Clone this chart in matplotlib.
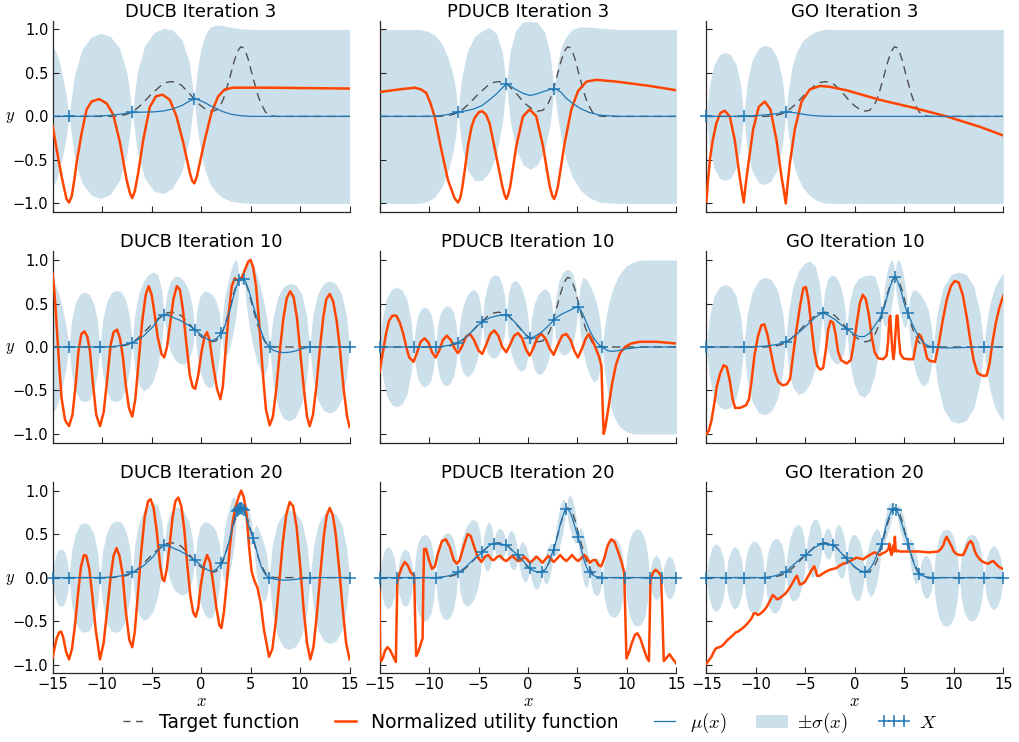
import numpy as np
import matplotlib
matplotlib.use("Agg")
import matplotlib.pyplot as plt
from matplotlib.lines import Line2D
from matplotlib.patches import Patch

plt.rcParams.update({
    "font.family": ["DejaVu Sans"],
    "mathtext.fontset": "cm",
    "axes.linewidth": 0.9,
})

COLORS = {
    "band": "#cce0ec",
    "mu": "#1f77b4",
    "util": "#ff4500",
    "target": "#505050",
    "spine": "#262626",
}

# --- target function (same in every panel) ---
TARGET_X = [-15, -9, -8.5, -8, -7.5, -7, -6.5, -6, -5.5, -5, -4.5, -4, -3.5, -3, -2.5, -2,
            -1.5, -1, -0.5, 0, 0.5, 1, 1.5, 2, 2.25, 2.5, 2.75, 3, 3.25, 3.5, 3.75, 4,
            4.25, 4.5, 4.75, 5, 5.25, 5.5, 5.75, 6, 6.5, 7, 7.5, 15]
TARGET_Y = [0, 0, 0.005, 0.012, 0.025, 0.05, 0.09, 0.14, 0.2, 0.26, 0.31, 0.36, 0.39, 0.4, 0.39, 0.36,
            0.3, 0.24, 0.17, 0.12, 0.08, 0.06, 0.07, 0.14, 0.2, 0.29, 0.39, 0.49, 0.6, 0.69, 0.76, 0.8,
            0.79, 0.74, 0.66, 0.55, 0.44, 0.34, 0.24, 0.16, 0.05, 0.01, 0, 0]

# --- observed samples X (+ markers) ---
X_DUCB3 = [-13.35, -6.96, -0.70]
Y_DUCB3 = [0.0, 0.046, 0.2]
X_PDUCB3 = [-7.08, -2.19, 2.63]
Y_PDUCB3 = [0.05, 0.37, 0.32]
X_GO3 = [-15.0, -11.23, -6.98]
Y_GO3 = [0.0, 0.0, 0.05]
X_DUCB10 = [-13.35, -10.22, -6.96, -3.73, -0.64, 2.05, 3.85, 4.35, 6.93, 10.97, 15.0]
Y_DUCB10 = [0, 0, 0.05, 0.37, 0.2, 0.16, 0.77, 0.78, 0, 0, 0]
X_PDUCB10 = [-15.0, -11.56, -9.34, -7.08, -4.62, -2.19, 0.17, 2.59, 5.05, 7.51]
Y_PDUCB10 = [0, 0, 0, 0.05, 0.29, 0.37, 0.1, 0.31, 0.46, 0]
X_GO10 = [-15.0, -11.23, -6.98, -3.27, -0.84, 2.75, 4.04, 5.35, 7.92, 13.04]
Y_GO10 = [0, 0, 0.06, 0.39, 0.21, 0.39, 0.8, 0.39, 0, 0]
X_DUCB20 = [-15, -13.35, -10.22, -6.96, -3.73, -0.64, 2.05, 3.6, 3.75, 3.85, 3.95, 4.05, 4.15, 4.3,
            5.25, 6.86, 11.03, 15]
Y_DUCB20 = [0, 0, 0, 0.06, 0.37, 0.2, 0.17, 0.76, 0.78, 0.79, 0.8, 0.8, 0.79, 0.78,
            0.46, 0, 0, 0]
X_PDUCB20 = [-15, -13.25, -11.56, -9.34, -7.08, -4.62, -3.47, -2.19, -1.01, 0.17, 1.45, 2.59, 3.87,
             5.05, 6.23, 7.51, 9.77, 12.3, 13.58, 15]
Y_PDUCB20 = [0, 0, 0, 0, 0.06, 0.29, 0.39, 0.37, 0.26, 0.11, 0.06, 0.32, 0.79,
             0.47, 0.06, 0, 0, 0, 0, 0]
X_GO20 = [-15, -13.05, -11.23, -9.1, -6.98, -4.96, -3.27, -2.19, -0.84, 1.0, 2.7, 3.87, 4.2, 5.39,
          6.5, 7.92, 10.55, 13.04, 15]
Y_GO20 = [0, 0, 0, 0, 0.07, 0.26, 0.39, 0.37, 0.22, 0.07, 0.39, 0.79, 0.78, 0.39,
          0.04, 0, 0, 0, 0]

# --- GP posterior: (x, mu, sigma) ---
GP_DUCB3 = [
    (-15.0, 0.0, 0.80), (-14.7, 0.0, 0.75), (-14.35, 0.0, 0.64), (-14.0, 0.0, 0.46), (-13.65, 0.0, 0.25), (-13.35, 0.0, 0.0),
    (-12.84, 0.001, 0.45), (-12.07, 0.001, 0.76), (-11.11, 0.002, 0.91), (-10.16, 0.006, 0.95), (-9.2, 0.012, 0.91),
    (-8.24, 0.025, 0.76), (-7.47, 0.037, 0.45), (-6.96, 0.046, 0.0),
    (-6.46, 0.048, 0.45), (-5.71, 0.049, 0.76), (-4.77, 0.052, 0.91), (-3.83, 0.062, 0.95), (-2.89, 0.085, 0.91),
    (-1.95, 0.125, 0.76), (-1.2, 0.175, 0.45), (-0.7, 0.2, 0.0),
    (-0.4, 0.195, 0.33), (-0.05, 0.18, 0.58), (0.4, 0.157, 0.78), (0.9, 0.125, 0.9), (1.5, 0.09, 0.96),
    (2.2, 0.055, 0.99), (3.0, 0.025, 1.0), (4.0, 0.008, 1.0), (5.0, 0.0, 1.0), (15.0, 0.0, 1.0)]
GP_PDUCB3 = [
    (-15.0, 0.0, 1.0), (-11.0, 0.0, 1.0), (-10.2, 0.0, 0.98), (-9.4, 0.003, 0.93), (-8.7, 0.012, 0.82),
    (-8.1, 0.022, 0.66), (-7.6, 0.035, 0.45), (-7.3, 0.043, 0.27), (-7.08, 0.05, 0.0),
    (-6.69, 0.058, 0.4), (-6.1, 0.068, 0.69), (-5.37, 0.09, 0.83), (-4.64, 0.125, 0.86), (-3.9, 0.19, 0.83),
    (-3.17, 0.26, 0.69), (-2.58, 0.33, 0.4), (-2.19, 0.37, 0.0),
    (-1.8, 0.35, 0.4), (-1.23, 0.31, 0.68), (-0.5, 0.265, 0.82), (0.22, 0.24, 0.85), (0.94, 0.26, 0.82),
    (1.67, 0.29, 0.68), (2.24, 0.31, 0.4), (2.63, 0.32, 0.0),
    (2.95, 0.305, 0.27), (3.35, 0.275, 0.52), (3.85, 0.21, 0.71), (4.5, 0.15, 0.85), (5.3, 0.09, 0.94),
    (6.2, 0.045, 0.98), (7.2, 0.015, 1.0), (9.0, 0.0, 1.0), (15.0, 0.0, 1.0)]
GP_GO3 = [
    (-15.0, 0.0, 0.0), (-14.7, 0.0, 0.35), (-14.25, 0.0, 0.59), (-13.68, 0.0, 0.71), (-13.12, 0.0, 0.735),
    (-12.55, 0.0, 0.71), (-11.98, 0.0, 0.59), (-11.53, 0.0, 0.35), (-11.23, 0.0, 0.0),
    (-10.89, 0.003, 0.38), (-10.38, 0.006, 0.64), (-9.74, 0.011, 0.77), (-9.11, 0.017, 0.8), (-8.47, 0.024, 0.77),
    (-7.83, 0.033, 0.64), (-7.32, 0.042, 0.38), (-6.98, 0.05, 0.0),
    (-6.7, 0.05, 0.27), (-6.35, 0.046, 0.52), (-5.9, 0.038, 0.7), (-5.3, 0.026, 0.84), (-4.6, 0.014, 0.92),
    (-3.9, 0.006, 0.97), (-3.0, 0.002, 1.0), (-2.0, 0.0, 1.0), (15.0, 0.0, 1.0)]
GP_DUCB10 = [
    (-15.0, 0.0, 0.76), (-14.7, 0.0, 0.71), (-14.35, 0.0, 0.6), (-14.0, 0.0, 0.44), (-13.65, 0.0, 0.24), (-13.35, 0.0, 0.0),
    (-13.1, 0.0, 0.3), (-12.72, 0.0, 0.5), (-12.25, 0.0, 0.61), (-11.79, 0.0, 0.63), (-11.32, 0.0, 0.61),
    (-10.85, 0.0, 0.5), (-10.47, 0.0, 0.3), (-10.22, 0.0, 0.0),
    (-9.96, 0.001, 0.3), (-9.57, 0.002, 0.51), (-9.08, 0.004, 0.62), (-8.59, 0.01, 0.64), (-8.1, 0.018, 0.62),
    (-7.61, 0.03, 0.51), (-7.22, 0.042, 0.3), (-6.96, 0.05, 0.0),
    (-6.7, 0.065, 0.31), (-6.31, 0.09, 0.52), (-5.83, 0.125, 0.63), (-5.35, 0.18, 0.65), (-4.86, 0.235, 0.63),
    (-4.38, 0.31, 0.52), (-3.99, 0.35, 0.31), (-3.73, 0.37, 0.0),
    (-3.48, 0.365, 0.24), (-3.11, 0.355, 0.4), (-2.65, 0.33, 0.48), (-2.19, 0.31, 0.5), (-1.73, 0.28, 0.48),
    (-1.26, 0.25, 0.4), (-0.89, 0.22, 0.24), (-0.64, 0.2, 0.0),
    (-0.42, 0.18, 0.26), (-0.1, 0.15, 0.44), (0.3, 0.115, 0.53), (0.71, 0.085, 0.55), (1.11, 0.07, 0.53),
    (1.51, 0.095, 0.44), (1.83, 0.13, 0.26), (2.05, 0.16, 0.0),
    (2.19, 0.19, 0.2), (2.41, 0.25, 0.34), (2.68, 0.33, 0.4), (2.95, 0.44, 0.42), (3.22, 0.56, 0.4),
    (3.49, 0.67, 0.34), (3.71, 0.74, 0.2), (3.85, 0.77, 0.0),
    (4.1, 0.785, 0.07), (4.35, 0.78, 0.0),
    (4.56, 0.73, 0.24), (4.87, 0.63, 0.4), (5.25, 0.48, 0.48), (5.64, 0.33, 0.5), (6.03, 0.19, 0.48),
    (6.41, 0.08, 0.4), (6.72, 0.025, 0.24), (6.93, 0.0, 0.0),
    (7.25, -0.035, 0.37), (7.74, -0.055, 0.63), (8.34, -0.065, 0.76), (8.95, -0.06, 0.79), (9.56, -0.045, 0.76),
    (10.16, -0.02, 0.63), (10.65, -0.008, 0.37), (10.97, 0.0, 0.0),
    (11.29, 0.0, 0.36), (11.78, 0.0, 0.61), (12.38, 0.0, 0.73), (12.99, 0.0, 0.76), (13.59, 0.0, 0.73),
    (14.19, 0.0, 0.61), (14.68, 0.0, 0.36), (15.0, 0.0, 0.0)]
GP_PDUCB10 = [
    (-15.0, 0.0, 0.0), (-14.72, 0.0, 0.32), (-14.31, 0.0, 0.55), (-13.8, 0.0, 0.66), (-13.28, 0.0, 0.69),
    (-12.76, 0.0, 0.66), (-12.25, 0.0, 0.55), (-11.84, 0.0, 0.32), (-11.56, 0.0, 0.0),
    (-11.38, 0.0, 0.22), (-11.12, 0.0, 0.37), (-10.78, 0.0, 0.44), (-10.45, 0.0, 0.46), (-10.12, 0.0, 0.44),
    (-9.78, 0.0, 0.37), (-9.52, 0.0, 0.22), (-9.34, 0.0, 0.0),
    (-9.16, 0.001, 0.22), (-8.89, 0.004, 0.37), (-8.55, 0.009, 0.44), (-8.21, 0.015, 0.46), (-7.87, 0.023, 0.44),
    (-7.53, 0.034, 0.37), (-7.26, 0.043, 0.22), (-7.08, 0.05, 0.0),
    (-6.88, 0.065, 0.23), (-6.59, 0.085, 0.38), (-6.22, 0.12, 0.46), (-5.85, 0.16, 0.48), (-5.48, 0.2, 0.46),
    (-5.1, 0.245, 0.38), (-4.82, 0.27, 0.23), (-4.62, 0.29, 0.0),
    (-4.43, 0.305, 0.23), (-4.13, 0.32, 0.38), (-3.77, 0.34, 0.46), (-3.4, 0.35, 0.48), (-3.04, 0.36, 0.46),
    (-2.68, 0.365, 0.38), (-2.38, 0.37, 0.23), (-2.19, 0.37, 0.0),
    (-2.0, 0.36, 0.24), (-1.72, 0.33, 0.4), (-1.36, 0.29, 0.48), (-1.01, 0.245, 0.5), (-0.66, 0.2, 0.48),
    (-0.3, 0.15, 0.4), (-0.02, 0.115, 0.24), (0.17, 0.1, 0.0),
    (0.36, 0.105, 0.23), (0.65, 0.12, 0.38), (1.02, 0.145, 0.46), (1.38, 0.17, 0.48), (1.74, 0.21, 0.46),
    (2.11, 0.25, 0.38), (2.4, 0.285, 0.23), (2.59, 0.31, 0.0),
    (2.79, 0.33, 0.23), (3.08, 0.355, 0.39), (3.45, 0.38, 0.47), (3.82, 0.4, 0.49), (4.19, 0.42, 0.47),
    (4.56, 0.44, 0.39), (4.85, 0.455, 0.23), (5.05, 0.46, 0.0),
    (5.25, 0.44, 0.25), (5.54, 0.38, 0.42), (5.91, 0.28, 0.5), (6.28, 0.18, 0.52), (6.65, 0.1, 0.5),
    (7.02, 0.045, 0.42), (7.31, 0.015, 0.25), (7.51, 0.0, 0.0),
    (7.75, -0.02, 0.27), (8.1, -0.045, 0.52), (8.6, -0.05, 0.73), (9.2, -0.04, 0.87), (9.9, -0.022, 0.95),
    (10.7, -0.01, 0.99), (11.6, 0.0, 1.0), (15.0, 0.0, 1.0)]
GP_GO10 = [
    (-15.0, 0.0, 0.0), (-14.7, 0.0, 0.34), (-14.25, 0.0, 0.58), (-13.68, 0.0, 0.69), (-13.12, 0.0, 0.72),
    (-12.55, 0.0, 0.69), (-11.98, 0.0, 0.58), (-11.53, 0.0, 0.34), (-11.23, 0.0, 0.0),
    (-10.89, 0.001, 0.37), (-10.38, 0.002, 0.63), (-9.74, 0.005, 0.76), (-9.11, 0.01, 0.79), (-8.47, 0.018, 0.76),
    (-7.83, 0.03, 0.63), (-7.32, 0.045, 0.37), (-6.98, 0.06, 0.0),
    (-6.68, 0.08, 0.35), (-6.24, 0.115, 0.59), (-5.68, 0.165, 0.71), (-5.13, 0.22, 0.74), (-4.57, 0.28, 0.71),
    (-4.01, 0.34, 0.59), (-3.57, 0.375, 0.35), (-3.27, 0.39, 0.0),
    (-3.08, 0.385, 0.24), (-2.78, 0.37, 0.4), (-2.42, 0.345, 0.48), (-2.06, 0.32, 0.5), (-1.69, 0.285, 0.48),
    (-1.33, 0.25, 0.4), (-1.03, 0.225, 0.24), (-0.84, 0.21, 0.0),
    (-0.55, 0.185, 0.33), (-0.12, 0.15, 0.56), (0.42, 0.12, 0.67), (0.96, 0.12, 0.7), (1.49, 0.16, 0.67),
    (2.03, 0.25, 0.56), (2.46, 0.32, 0.33), (2.75, 0.39, 0.0),
    (2.85, 0.42, 0.14), (3.01, 0.47, 0.24), (3.2, 0.55, 0.29), (3.4, 0.63, 0.3), (3.59, 0.7, 0.29),
    (3.78, 0.76, 0.24), (3.94, 0.79, 0.14), (4.04, 0.8, 0.0),
    (4.14, 0.79, 0.14), (4.3, 0.76, 0.24), (4.5, 0.7, 0.29), (4.7, 0.63, 0.3), (4.89, 0.54, 0.29),
    (5.09, 0.46, 0.24), (5.25, 0.41, 0.14), (5.35, 0.39, 0.0),
    (5.56, 0.33, 0.24), (5.86, 0.25, 0.41), (6.25, 0.16, 0.49), (6.64, 0.09, 0.51), (7.02, 0.04, 0.49),
    (7.41, 0.015, 0.41), (7.72, 0.005, 0.24), (7.92, 0.0, 0.0),
    (8.33, -0.005, 0.41), (8.94, -0.01, 0.7), (9.71, -0.01, 0.84), (10.48, -0.008, 0.87), (11.25, -0.005, 0.84),
    (12.02, -0.003, 0.7), (12.63, -0.001, 0.41), (13.04, 0.0, 0.0),
    (13.3, 0.0, 0.27), (13.65, 0.0, 0.5), (14.1, 0.0, 0.68), (14.55, 0.0, 0.78), (15.0, 0.0, 0.85)]
GP_DUCB20 = [
    (-15.0, 0.0, 0.0), (-14.87, 0.0, 0.16), (-14.67, 0.0, 0.26), (-14.42, 0.0, 0.32), (-14.18, 0.0, 0.33),
    (-13.93, 0.0, 0.32), (-13.68, 0.0, 0.26), (-13.48, 0.0, 0.16), (-13.35, 0.0, 0.0),
    (-13.1, 0.0, 0.3), (-12.72, 0.0, 0.5), (-12.25, 0.0, 0.61), (-11.79, 0.0, 0.63), (-11.32, 0.0, 0.61),
    (-10.85, 0.0, 0.5), (-10.47, 0.0, 0.3), (-10.22, 0.0, 0.0),
    (-9.96, 0.001, 0.3), (-9.57, 0.002, 0.51), (-9.08, 0.005, 0.62), (-8.59, 0.011, 0.64), (-8.1, 0.02, 0.62),
    (-7.61, 0.033, 0.51), (-7.22, 0.048, 0.3), (-6.96, 0.06, 0.0),
    (-6.7, 0.075, 0.31), (-6.31, 0.1, 0.52), (-5.83, 0.135, 0.63), (-5.35, 0.185, 0.65), (-4.86, 0.24, 0.63),
    (-4.38, 0.31, 0.52), (-3.99, 0.35, 0.31), (-3.73, 0.37, 0.0),
    (-3.48, 0.365, 0.24), (-3.11, 0.355, 0.4), (-2.65, 0.33, 0.48), (-2.19, 0.31, 0.5), (-1.73, 0.28, 0.48),
    (-1.26, 0.25, 0.4), (-0.89, 0.22, 0.24), (-0.64, 0.2, 0.0),
    (-0.42, 0.18, 0.26), (-0.1, 0.15, 0.44), (0.3, 0.115, 0.53), (0.71, 0.085, 0.55), (1.11, 0.07, 0.53),
    (1.51, 0.095, 0.44), (1.83, 0.135, 0.26), (2.05, 0.17, 0.0),
    (2.17, 0.2, 0.18), (2.36, 0.25, 0.3), (2.59, 0.32, 0.37), (2.83, 0.42, 0.38), (3.06, 0.53, 0.37),
    (3.29, 0.64, 0.3), (3.48, 0.72, 0.18), (3.6, 0.76, 0.0),
    (3.75, 0.78, 0.0), (3.85, 0.79, 0.0), (3.95, 0.8, 0.0), (4.05, 0.8, 0.0), (4.15, 0.79, 0.0), (4.3, 0.78, 0.0),
    (4.38, 0.76, 0.08), (4.49, 0.72, 0.14), (4.63, 0.67, 0.165), (4.78, 0.61, 0.17), (4.92, 0.56, 0.165),
    (5.06, 0.52, 0.14), (5.17, 0.48, 0.08), (5.25, 0.46, 0.0),
    (5.38, 0.41, 0.16), (5.57, 0.33, 0.28), (5.81, 0.22, 0.34), (6.06, 0.13, 0.35), (6.3, 0.07, 0.34),
    (6.54, 0.03, 0.28), (6.73, 0.01, 0.16), (6.86, 0.0, 0.0),
    (7.19, -0.012, 0.38), (7.69, -0.022, 0.64), (8.32, -0.03, 0.77), (8.95, -0.027, 0.8), (9.57, -0.02, 0.77),
    (10.2, -0.012, 0.64), (10.7, -0.005, 0.38), (11.03, 0.0, 0.0),
    (11.35, 0.0, 0.36), (11.82, 0.0, 0.61), (12.42, 0.0, 0.73), (13.02, 0.0, 0.76), (13.61, 0.0, 0.73),
    (14.21, 0.0, 0.61), (14.68, 0.0, 0.36), (15.0, 0.0, 0.0)]
GP_PDUCB20 = [
    (-15.0, 0.0, 0.0), (-14.79, 0.0, 0.2), (-14.48, 0.0, 0.32), (-14.13, 0.0, 0.36), (-13.78, 0.0, 0.32),
    (-13.46, 0.0, 0.2), (-13.25, 0.0, 0.0),
    (-13.05, 0.0, 0.18), (-12.74, 0.0, 0.3), (-12.41, 0.0, 0.33), (-12.07, 0.0, 0.3), (-11.76, 0.0, 0.18), (-11.56, 0.0, 0.0),
    (-11.38, 0.0, 0.24), (-11.12, 0.0, 0.4), (-10.78, 0.0, 0.48), (-10.45, 0.0, 0.5), (-10.12, 0.0, 0.48),
    (-9.78, 0.0, 0.4), (-9.52, 0.0, 0.24), (-9.34, 0.0, 0.0),
    (-9.16, 0.001, 0.24), (-8.89, 0.004, 0.4), (-8.55, 0.009, 0.48), (-8.21, 0.016, 0.5), (-7.87, 0.026, 0.48),
    (-7.53, 0.038, 0.4), (-7.26, 0.05, 0.24), (-7.08, 0.06, 0.0),
    (-6.88, 0.075, 0.23), (-6.59, 0.095, 0.38), (-6.22, 0.13, 0.46), (-5.85, 0.17, 0.48), (-5.48, 0.21, 0.46),
    (-5.1, 0.25, 0.38), (-4.82, 0.27, 0.23), (-4.62, 0.29, 0.0),
    (-4.48, 0.305, 0.16), (-4.28, 0.33, 0.25), (-4.05, 0.355, 0.28), (-3.82, 0.375, 0.25), (-3.61, 0.385, 0.16), (-3.47, 0.39, 0.0),
    (-3.32, 0.392, 0.1), (-3.09, 0.393, 0.16), (-2.83, 0.39, 0.18), (-2.57, 0.383, 0.16), (-2.34, 0.376, 0.1), (-2.19, 0.37, 0.0),
    (-2.05, 0.36, 0.12), (-1.84, 0.34, 0.2), (-1.6, 0.315, 0.22), (-1.36, 0.29, 0.2), (-1.15, 0.27, 0.12), (-1.01, 0.26, 0.0),
    (-0.87, 0.24, 0.12), (-0.66, 0.215, 0.2), (-0.42, 0.18, 0.22), (-0.18, 0.15, 0.2), (0.03, 0.125, 0.12), (0.17, 0.11, 0.0),
    (0.32, 0.095, 0.11), (0.55, 0.08, 0.18), (0.81, 0.068, 0.2), (1.07, 0.062, 0.18), (1.3, 0.06, 0.11), (1.45, 0.06, 0.0),
    (1.59, 0.07, 0.11), (1.79, 0.1, 0.18), (2.02, 0.15, 0.2), (2.25, 0.22, 0.18), (2.45, 0.28, 0.11), (2.59, 0.32, 0.0),
    (2.74, 0.38, 0.12), (2.97, 0.47, 0.2), (3.23, 0.6, 0.22), (3.49, 0.7, 0.2), (3.72, 0.77, 0.12), (3.87, 0.79, 0.0),
    (4.01, 0.79, 0.12), (4.22, 0.76, 0.2), (4.46, 0.69, 0.22), (4.7, 0.6, 0.2), (4.91, 0.52, 0.12), (5.05, 0.47, 0.0),
    (5.19, 0.41, 0.16), (5.4, 0.32, 0.25), (5.64, 0.21, 0.28), (5.88, 0.13, 0.25), (6.09, 0.08, 0.16), (6.23, 0.06, 0.0),
    (6.38, 0.045, 0.12), (6.61, 0.025, 0.2), (6.87, 0.012, 0.22), (7.13, 0.005, 0.2), (7.36, 0.002, 0.12), (7.51, 0.0, 0.0),
    (7.69, 0.0, 0.22), (7.96, 0.0, 0.37), (8.3, 0.0, 0.44), (8.64, 0.0, 0.46), (8.98, 0.0, 0.44),
    (9.32, 0.0, 0.37), (9.59, 0.0, 0.22), (9.77, 0.0, 0.0),
    (9.97, 0.0, 0.26), (10.28, 0.0, 0.45), (10.66, 0.0, 0.54), (11.04, 0.0, 0.56), (11.41, 0.0, 0.54),
    (11.79, 0.0, 0.45), (12.1, 0.0, 0.26), (12.3, 0.0, 0.0),
    (12.45, 0.0, 0.15), (12.68, 0.0, 0.23), (12.94, 0.0, 0.26), (13.2, 0.0, 0.23), (13.43, 0.0, 0.15), (13.58, 0.0, 0.0),
    (13.75, 0.0, 0.14), (14.01, 0.0, 0.22), (14.29, 0.0, 0.25), (14.57, 0.0, 0.22), (14.83, 0.0, 0.14), (15.0, 0.0, 0.0)]
GP_GO20 = [
    (-15.0, 0.0, 0.0), (-14.77, 0.0, 0.22), (-14.42, 0.0, 0.35), (-14.03, 0.0, 0.39), (-13.64, 0.0, 0.35),
    (-13.28, 0.0, 0.22), (-13.05, 0.0, 0.0),
    (-12.83, 0.0, 0.2), (-12.5, 0.0, 0.32), (-12.14, 0.0, 0.36), (-11.78, 0.0, 0.32), (-11.45, 0.0, 0.2), (-11.23, 0.0, 0.0),
    (-11.06, 0.0, 0.2), (-10.8, 0.0, 0.34), (-10.48, 0.0, 0.4), (-10.17, 0.0, 0.42), (-9.85, 0.0, 0.4),
    (-9.53, 0.0, 0.34), (-9.27, 0.0, 0.2), (-9.1, 0.0, 0.0),
    (-8.93, 0.002, 0.2), (-8.68, 0.006, 0.34), (-8.36, 0.013, 0.41), (-8.04, 0.022, 0.43), (-7.72, 0.034, 0.41),
    (-7.4, 0.048, 0.34), (-7.15, 0.06, 0.2), (-6.98, 0.07, 0.0),
    (-6.82, 0.085, 0.2), (-6.58, 0.11, 0.34), (-6.27, 0.14, 0.41), (-5.97, 0.17, 0.43), (-5.67, 0.2, 0.41),
    (-5.36, 0.23, 0.34), (-5.12, 0.25, 0.2), (-4.96, 0.26, 0.0),
    (-4.76, 0.28, 0.18), (-4.45, 0.31, 0.3), (-4.12, 0.34, 0.33), (-3.78, 0.365, 0.3), (-3.47, 0.38, 0.18), (-3.27, 0.39, 0.0),
    (-3.14, 0.392, 0.1), (-2.95, 0.393, 0.16), (-2.73, 0.39, 0.18), (-2.51, 0.383, 0.16), (-2.32, 0.377, 0.1), (-2.19, 0.37, 0.0),
    (-2.03, 0.36, 0.17), (-1.79, 0.34, 0.27), (-1.52, 0.3, 0.3), (-1.25, 0.265, 0.27), (-1.0, 0.235, 0.17), (-0.84, 0.22, 0.0),
    (-0.62, 0.19, 0.21), (-0.29, 0.155, 0.34), (0.08, 0.115, 0.38), (0.45, 0.085, 0.34), (0.78, 0.072, 0.21), (1.0, 0.07, 0.0),
    (1.2, 0.075, 0.2), (1.51, 0.1, 0.32), (1.85, 0.16, 0.35), (2.19, 0.25, 0.32), (2.5, 0.33, 0.2), (2.7, 0.39, 0.0),
    (2.84, 0.45, 0.08), (3.05, 0.55, 0.14), (3.29, 0.65, 0.15), (3.52, 0.72, 0.14), (3.73, 0.77, 0.08), (3.87, 0.79, 0.0),
    (4.03, 0.795, 0.02), (4.2, 0.78, 0.0),
    (4.34, 0.75, 0.08), (4.56, 0.68, 0.14), (4.8, 0.6, 0.15), (5.03, 0.51, 0.14), (5.25, 0.44, 0.08), (5.39, 0.39, 0.0),
    (5.52, 0.33, 0.11), (5.72, 0.25, 0.18), (5.95, 0.17, 0.2), (6.17, 0.1, 0.18), (6.37, 0.06, 0.11), (6.5, 0.04, 0.0),
    (6.67, 0.03, 0.14), (6.93, 0.018, 0.22), (7.21, 0.008, 0.25), (7.49, 0.003, 0.22), (7.75, 0.001, 0.14), (7.92, 0.0, 0.0),
    (8.13, 0.0, 0.26), (8.45, 0.0, 0.45), (8.84, 0.0, 0.54), (9.24, 0.0, 0.56), (9.63, 0.0, 0.54),
    (10.03, 0.0, 0.45), (10.34, 0.0, 0.26), (10.55, 0.0, 0.0),
    (10.75, 0.0, 0.24), (11.05, 0.0, 0.4), (11.42, 0.0, 0.48), (11.8, 0.0, 0.5), (12.17, 0.0, 0.48),
    (12.54, 0.0, 0.4), (12.84, 0.0, 0.24), (13.04, 0.0, 0.0),
    (13.28, 0.0, 0.21), (13.63, 0.0, 0.33), (14.02, 0.0, 0.37), (14.41, 0.0, 0.33), (14.76, 0.0, 0.21), (15.0, 0.0, 0.0)]

# --- normalized utility function: (x, u) ---
UTIL_DUCB3 = [
    (-15, -0.11), (-14.6, -0.38), (-14.1, -0.69), (-13.6, -0.95), (-13.35, -0.99), (-13.08, -0.92), (-12.8, -0.72),
    (-12.58, -0.53), (-12.07, -0.19), (-11.57, 0.08), (-11.07, 0.17), (-10.32, 0.2), (-9.55, 0.15), (-8.88, 0.02),
    (-8.2, -0.3), (-7.53, -0.73), (-7.2, -0.88), (-6.96, -0.94), (-6.7, -0.86), (-6.36, -0.65), (-5.85, -0.27),
    (-5.18, 0.11), (-4.57, 0.23), (-3.9, 0.25), (-3.16, 0.19), (-2.49, 0.0), (-1.81, -0.3), (-1.14, -0.65),
    (-0.9, -0.74), (-0.7, -0.77), (-0.45, -0.7), (-0.2, -0.57), (0.37, -0.27), (1.04, 0.04), (1.72, 0.23),
    (2.39, 0.31), (3.23, 0.33), (6.6, 0.33), (15, 0.32)]
UTIL_PDUCB3 = [
    (-15, 0.28), (-13, 0.31), (-11.46, 0.33), (-10.8, 0.31), (-10.28, 0.27), (-9.85, 0.15), (-9.44, 0.0),
    (-8.76, -0.38), (-8.09, -0.73), (-7.42, -0.94), (-7.08, -0.99), (-6.85, -0.94), (-6.67, -0.84), (-6.37, -0.6),
    (-6.07, -0.34), (-5.7, -0.12), (-5.4, -0.02), (-4.95, 0.05), (-4.62, 0.06), (-4.25, 0.02), (-3.88, -0.08),
    (-3.2, -0.46), (-2.6, -0.8), (-2.35, -0.91), (-2.19, -0.95), (-2.0, -0.9), (-1.79, -0.8), (-1.18, -0.34),
    (-0.51, 0.0), (0.17, 0.08), (0.84, 0.0), (1.51, -0.34), (2.19, -0.8), (2.45, -0.91), (2.63, -0.95),
    (2.82, -0.9), (3.03, -0.8), (3.7, -0.31), (4.38, 0.08), (5.05, 0.29), (5.9, 0.4), (6.9, 0.42),
    (8.93, 0.4), (12.3, 0.35), (15, 0.3)]
UTIL_GO3 = [
    (-15, -0.98), (-14.85, -0.75), (-14.65, -0.5), (-14.4, -0.3), (-14.0, -0.08), (-13.58, 0.04), (-13.15, 0.065),
    (-12.64, 0.0), (-12.14, -0.27), (-11.63, -0.7), (-11.4, -0.87), (-11.23, -0.99), (-11.05, -0.8), (-10.79, -0.57),
    (-10.28, -0.15), (-9.71, 0.11), (-9.1, 0.17), (-8.53, 0.08), (-7.92, -0.27), (-7.42, -0.69), (-7.15, -0.87),
    (-6.98, -1.0), (-6.8, -0.78), (-6.57, -0.54), (-6.07, -0.15), (-5.39, 0.17), (-4.55, 0.31), (-3.54, 0.35),
    (-2.53, 0.34), (-0.84, 0.3), (2.53, 0.19), (5.9, 0.1), (9.26, 0.0), (12.64, -0.12), (15, -0.22)]
UTIL_DUCB10 = [
    (-15, 0.84), (-14.8, 0.6), (-14.6, 0.25), (-14.35, -0.2), (-14.1, -0.59), (-13.75, -0.84), (-13.35, -0.91),
    (-13.0, -0.78), (-12.65, -0.4), (-12.4, -0.05), (-12.1, 0.15), (-11.8, 0.18), (-11.5, 0.12), (-11.23, -0.05),
    (-10.95, -0.4), (-10.6, -0.78), (-10.22, -0.91), (-9.85, -0.75), (-9.5, -0.38), (-9.15, 0.02), (-8.85, 0.17),
    (-8.5, 0.2), (-8.2, 0.1), (-7.9, -0.12), (-7.6, -0.45), (-7.3, -0.7), (-6.96, -0.8), (-6.65, -0.6),
    (-6.3, -0.15), (-5.95, 0.3), (-5.6, 0.6), (-5.3, 0.7), (-5.0, 0.6), (-4.7, 0.38), (-4.4, 0.12), (-4.0, -0.08),
    (-3.73, -0.12), (-3.45, 0.0), (-3.15, 0.25), (-2.8, 0.55), (-2.45, 0.7), (-2.15, 0.66), (-1.85, 0.44),
    (-1.5, 0.05), (-1.15, -0.32), (-0.85, -0.46), (-0.6, -0.48), (-0.3, -0.33), (0.05, -0.05), (0.35, 0.12),
    (0.6, 0.17), (0.85, 0.08), (1.2, -0.2), (1.6, -0.48), (1.95, -0.6), (2.2, -0.45), (2.5, 0.0), (2.8, 0.4),
    (3.1, 0.7), (3.4, 0.79), (3.75, 0.76), (4.05, 0.78), (4.4, 0.88), (4.75, 0.98), (5.0, 1.0), (5.25, 0.92),
    (5.55, 0.7), (5.85, 0.3), (6.2, -0.25), (6.55, -0.72), (6.93, -0.9), (7.25, -0.8), (7.6, -0.48), (7.95, -0.05),
    (8.3, 0.32), (8.65, 0.56), (9.0, 0.64), (9.35, 0.57), (9.7, 0.32), (10.05, -0.1), (10.4, -0.5), (10.7, -0.8),
    (10.97, -0.91), (11.3, -0.78), (11.65, -0.45), (12.0, -0.02), (12.35, 0.35), (12.65, 0.55), (13.0, 0.61),
    (13.35, 0.52), (13.7, 0.3), (14.05, -0.05), (14.4, -0.48), (14.75, -0.8), (15, -0.92)]
UTIL_PDUCB10 = [
    (-15, -0.29), (-14.8, -0.15), (-14.6, -0.02), (-14.35, 0.15), (-14.05, 0.3), (-13.7, 0.36), (-13.3, 0.36),
    (-12.95, 0.28), (-12.6, 0.15), (-12.3, 0.0), (-12.0, -0.12), (-11.56, -0.17), (-11.2, -0.06), (-10.85, 0.06),
    (-10.45, 0.1), (-10.05, 0.05), (-9.7, -0.06), (-9.34, -0.12), (-9.0, -0.05), (-8.6, 0.08), (-8.2, 0.13),
    (-7.8, 0.08), (-7.4, -0.02), (-7.08, -0.07), (-6.7, 0.0), (-6.25, 0.12), (-5.85, 0.15), (-5.45, 0.08),
    (-5.0, -0.04), (-4.62, -0.08), (-4.25, 0.02), (-3.8, 0.15), (-3.4, 0.19), (-3.0, 0.13), (-2.6, 0.0),
    (-2.19, -0.06), (-1.8, 0.03), (-1.4, 0.13), (-1.0, 0.16), (-0.6, 0.1), (-0.2, -0.03), (0.17, -0.1),
    (0.55, -0.01), (0.95, 0.11), (1.35, 0.15), (1.75, 0.1), (2.2, -0.02), (2.59, -0.09), (3.0, 0.02),
    (3.45, 0.13), (3.87, 0.15), (4.3, 0.08), (4.7, -0.05), (5.05, -0.12), (5.45, -0.02), (5.85, 0.1),
    (6.15, 0.15), (6.5, 0.08), (6.9, -0.03), (7.2, -0.12), (7.42, -0.22), (7.55, -0.7), (7.65, -1.0),
    (7.8, -0.93), (8.1, -0.72), (8.5, -0.42), (8.9, -0.2), (9.3, -0.07), (9.8, 0.0), (10.4, 0.04),
    (11.3, 0.06), (13, 0.06), (15, 0.04)]
UTIL_GO10 = [
    (-15, -1.0), (-14.75, -0.96), (-14.5, -0.85), (-14.2, -0.65), (-13.95, -0.45), (-13.6, -0.3), (-13.25, -0.21),
    (-12.95, -0.23), (-12.65, -0.38), (-12.35, -0.6), (-12.1, -0.7), (-11.6, -0.7), (-11.0, -0.67), (-10.7, -0.6),
    (-10.45, -0.4), (-10.15, -0.1), (-9.8, 0.12), (-9.45, 0.25), (-9.15, 0.26), (-8.85, 0.15), (-8.5, -0.05),
    (-8.1, -0.28), (-7.75, -0.4), (-7.3, -0.44), (-6.9, -0.43), (-6.55, -0.37), (-6.25, -0.1), (-5.9, 0.2),
    (-5.5, 0.5), (-5.2, 0.68), (-4.95, 0.69), (-4.7, 0.55), (-4.4, 0.25), (-4.1, -0.05), (-3.8, -0.22),
    (-3.5, -0.26), (-3.2, -0.24), (-2.95, -0.05), (-2.7, 0.2), (-2.45, 0.3), (-2.2, 0.28), (-1.95, 0.15),
    (-1.7, -0.05), (-1.4, -0.15), (-0.84, -0.19), (-0.4, -0.15), (-0.1, 0.05), (0.2, 0.28), (0.5, 0.5),
    (0.8, 0.6), (1.1, 0.55), (1.4, 0.38), (1.7, 0.12), (2.0, -0.06), (2.35, -0.13), (2.85, -0.14), (3.2, -0.1),
    (3.35, 0.05), (3.48, 0.32), (3.57, 0.36), (3.68, 0.15), (3.8, -0.05), (3.9, -0.14), (4.0, -0.05),
    (4.1, 0.15), (4.22, 0.36), (4.32, 0.36), (4.45, 0.1), (4.6, -0.08), (4.9, -0.13), (5.3, -0.14),
    (5.9, -0.14), (6.2, 0.05), (6.45, 0.15), (6.7, 0.12), (7.0, 0.02), (7.3, -0.13), (7.6, -0.16),
    (8.1, -0.17), (8.5, 0.05), (8.9, 0.32), (9.3, 0.55), (9.7, 0.7), (10.1, 0.76), (10.5, 0.74), (10.9, 0.6),
    (11.3, 0.35), (11.7, 0.05), (12.0, -0.15), (12.4, -0.3), (12.9, -0.33), (13.3, -0.33), (13.6, -0.2),
    (13.9, 0.05), (14.25, 0.28), (14.6, 0.45), (15, 0.59)]
UTIL_DUCB20 = [
    (-15, -0.92), (-14.8, -0.8), (-14.6, -0.7), (-14.35, -0.63), (-14.15, -0.62), (-13.95, -0.68), (-13.65, -0.85),
    (-13.35, -0.94), (-13.05, -0.82), (-12.75, -0.55), (-12.45, -0.2), (-12.15, 0.12), (-11.85, 0.26),
    (-11.6, 0.25), (-11.3, 0.1), (-11.0, -0.2), (-10.65, -0.6), (-10.22, -0.94), (-9.85, -0.75), (-9.5, -0.38),
    (-9.15, 0.0), (-8.85, 0.25), (-8.55, 0.34), (-8.25, 0.25), (-7.95, 0.05), (-7.6, -0.4), (-7.25, -0.72),
    (-6.96, -0.8), (-6.7, -0.62), (-6.4, -0.2), (-6.05, 0.3), (-5.7, 0.7), (-5.35, 0.88), (-5.1, 0.9),
    (-4.8, 0.8), (-4.5, 0.55), (-4.15, 0.15), (-3.9, -0.02), (-3.73, -0.04), (-3.5, 0.08), (-3.2, 0.35),
    (-2.9, 0.68), (-2.6, 0.88), (-2.3, 0.92), (-2.0, 0.82), (-1.7, 0.55), (-1.4, 0.15), (-1.1, -0.2),
    (-0.8, -0.4), (-0.55, -0.45), (-0.3, -0.35), (-0.05, -0.1), (0.3, 0.15), (0.6, 0.26), (0.9, 0.18),
    (1.2, -0.05), (1.55, -0.35), (1.85, -0.55), (2.05, -0.58), (2.3, -0.4), (2.6, -0.05), (2.9, 0.35),
    (3.2, 0.65), (3.5, 0.82), (3.8, 0.93), (4.05, 1.0), (4.3, 0.93), (4.6, 0.72), (4.85, 0.35), (5.1, 0.07),
    (5.4, -0.04), (5.7, -0.12), (6.0, -0.28), (6.35, -0.6), (6.86, -0.91), (7.2, -0.82), (7.55, -0.5),
    (7.9, -0.05), (8.25, 0.4), (8.6, 0.72), (8.95, 0.87), (9.3, 0.82), (9.65, 0.58), (10.0, 0.15),
    (10.35, -0.35), (10.7, -0.75), (11.03, -0.94), (11.35, -0.8), (11.7, -0.42), (12.05, 0.05), (12.4, 0.48),
    (12.7, 0.72), (13.0, 0.8), (13.3, 0.72), (13.6, 0.5), (13.95, 0.1), (14.3, -0.35), (14.65, -0.75), (15, -0.94)]
UTIL_PDUCB20 = [
    (-15, -0.14), (-14.97, -0.6), (-14.93, -0.89), (-14.83, -0.96), (-14.65, -0.92), (-14.45, -0.84),
    (-14.2, -0.8), (-13.95, -0.83), (-13.65, -0.9), (-13.35, -0.97), (-13.28, -0.5), (-13.2, -0.05),
    (-13.0, 0.04), (-12.75, 0.12), (-12.45, 0.18), (-12.15, 0.14), (-11.85, 0.06), (-11.5, 0.02), (-11.4, -0.5),
    (-11.3, -0.9), (-11.1, -0.86), (-10.8, -0.75), (-10.65, -0.7), (-10.58, -0.1), (-10.5, 0.33), (-10.3, 0.33),
    (-10.0, 0.2), (-9.7, 0.1), (-9.4, 0.13), (-9.1, 0.28), (-8.7, 0.42), (-8.3, 0.44), (-7.9, 0.35), (-7.5, 0.2),
    (-7.2, 0.16), (-6.9, 0.2), (-6.5, 0.36), (-6.1, 0.5), (-5.8, 0.48), (-5.45, 0.36), (-5.1, 0.24), (-4.7, 0.18),
    (-4.35, 0.24), (-4.0, 0.26), (-3.7, 0.21), (-3.45, 0.2), (-3.1, 0.24), (-2.8, 0.25), (-2.5, 0.21),
    (-2.2, 0.19), (-1.9, 0.22), (-1.6, 0.25), (-1.3, 0.22), (-1.0, 0.19), (-0.7, 0.2), (-0.4, 0.24),
    (-0.1, 0.21), (0.2, 0.17), (0.5, 0.2), (0.85, 0.24), (1.15, 0.21), (1.45, 0.17), (1.75, 0.21), (2.05, 0.25),
    (2.35, 0.21), (2.6, 0.18), (2.95, 0.22), (3.25, 0.26), (3.55, 0.22), (3.87, 0.19), (4.15, 0.22), (4.45, 0.26),
    (4.75, 0.22), (5.05, 0.19), (5.35, 0.22), (5.7, 0.26), (6.0, 0.22), (6.25, 0.17), (6.55, 0.2), (6.85, 0.2),
    (7.15, 0.14), (7.4, 0.13), (7.7, 0.22), (8.05, 0.37), (8.4, 0.44), (8.75, 0.41), (9.1, 0.3), (9.45, 0.18),
    (9.72, 0.06), (9.85, -0.5), (9.95, -0.93), (10.2, -0.86), (10.5, -0.75), (10.8, -0.66), (11.05, -0.64),
    (11.35, -0.7), (11.7, -0.82), (12.0, -0.92), (12.22, -0.96), (12.3, -0.5), (12.38, -0.02), (12.65, 0.06),
    (12.9, 0.09), (13.2, 0.06), (13.45, 0.02), (13.6, -0.5), (13.72, -0.96), (13.95, -0.93), (14.3, -0.88),
    (14.6, -0.93), (15, -0.99)]
UTIL_GO20 = [
    (-15, -0.99), (-14.75, -0.95), (-14.49, -0.91), (-14.2, -0.84), (-13.99, -0.81), (-13.7, -0.8), (-13.48, -0.79),
    (-13.2, -0.76), (-12.98, -0.73), (-12.6, -0.69), (-12.3, -0.66), (-12.05, -0.63), (-11.8, -0.62),
    (-11.45, -0.59), (-11.12, -0.56), (-10.8, -0.52), (-10.45, -0.47), (-10.2, -0.41), (-10.01, -0.41),
    (-9.8, -0.43), (-9.61, -0.42), (-9.2, -0.38), (-8.87, -0.33), (-8.5, -0.25), (-8.3, -0.2), (-8.09, -0.22),
    (-7.85, -0.25), (-7.65, -0.24), (-7.3, -0.21), (-6.98, -0.18), (-6.6, -0.12), (-6.24, -0.05), (-6.0, 0.0),
    (-5.85, 0.02), (-5.7, -0.03), (-5.56, -0.08), (-5.3, -0.07), (-5.06, -0.05), (-4.8, 0.0), (-4.55, 0.05),
    (-4.3, 0.1), (-4.1, 0.13), (-3.95, 0.08), (-3.8, 0.02), (-3.6, 0.02), (-3.2, 0.05), (-2.9, 0.07),
    (-2.53, 0.09), (-2.2, 0.1), (-1.86, 0.11), (-1.5, 0.14), (-1.18, 0.16), (-0.8, 0.17), (-0.51, 0.19),
    (-0.15, 0.21), (0.17, 0.23), (0.5, 0.22), (0.84, 0.21), (1.2, 0.24), (1.51, 0.26), (1.8, 0.28), (2.02, 0.29),
    (2.3, 0.27), (2.53, 0.26), (2.8, 0.28), (3.03, 0.29), (3.25, 0.31), (3.4, 0.33), (3.5, 0.39), (3.6, 0.3),
    (3.7, 0.26), (3.8, 0.33), (3.88, 0.37), (3.95, 0.3), (4.04, 0.47), (4.12, 0.33), (4.21, 0.3), (4.4, 0.31),
    (4.55, 0.3), (5.5, 0.3), (6.5, 0.3), (7.5, 0.29), (8.42, 0.3), (8.7, 0.33), (8.93, 0.37), (9.1, 0.43),
    (9.27, 0.47), (9.5, 0.42), (9.77, 0.36), (10.0, 0.3), (10.28, 0.27), (10.6, 0.26), (10.95, 0.26), (11.2, 0.32),
    (11.46, 0.39), (11.7, 0.42), (11.9, 0.39), (12.1, 0.31), (12.3, 0.26), (12.55, 0.22), (12.81, 0.19),
    (13.15, 0.17), (13.48, 0.16), (13.75, 0.18), (13.99, 0.19), (14.25, 0.16), (14.49, 0.13), (14.75, 0.11),
    (15, 0.1)]

METHODS = ["DUCB", "PDUCB", "GO"]
ITERATIONS = [3, 10, 20]
PANELS = [
    [(GP_DUCB3, UTIL_DUCB3, X_DUCB3, Y_DUCB3), (GP_PDUCB3, UTIL_PDUCB3, X_PDUCB3, Y_PDUCB3),
     (GP_GO3, UTIL_GO3, X_GO3, Y_GO3)],
    [(GP_DUCB10, UTIL_DUCB10, X_DUCB10, Y_DUCB10), (GP_PDUCB10, UTIL_PDUCB10, X_PDUCB10, Y_PDUCB10),
     (GP_GO10, UTIL_GO10, X_GO10, Y_GO10)],
    [(GP_DUCB20, UTIL_DUCB20, X_DUCB20, Y_DUCB20), (GP_PDUCB20, UTIL_PDUCB20, X_PDUCB20, Y_PDUCB20),
     (GP_GO20, UTIL_GO20, X_GO20, Y_GO20)],
]


def draw_panel(ax, gp, util, xs, ys):
    gx, mu, sd = np.array(gp).T
    ux, uy = np.array(util).T
    ax.fill_between(gx, mu - sd, mu + sd, color=COLORS["band"], lw=0, zorder=0)
    ax.plot(TARGET_X, TARGET_Y, color=COLORS["target"], lw=1.0, dashes=(6, 4), zorder=2)
    ax.plot(ux, uy, color=COLORS["util"], lw=1.8, zorder=3)
    ax.plot(gx, mu, color=COLORS["mu"], lw=0.9, zorder=4)
    ax.plot(xs, ys, ls="none", marker="+", ms=9, mew=1.1, color=COLORS["mu"], zorder=5, clip_on=False)

    ax.set_xlim(-15, 15)
    ax.set_ylim(-1.1, 1.1)
    ax.set_xticks([-15, -10, -5, 0, 5, 10, 15])
    ax.set_yticks([-1.0, -0.5, 0.0, 0.5, 1.0])
    for side in ("top", "right"):
        ax.spines[side].set_visible(False)
    for side in ("left", "bottom"):
        ax.spines[side].set_color(COLORS["spine"])
    ax.tick_params(direction="in", length=4, width=0.8, labelsize=10.5, pad=3,
                   colors=COLORS["spine"], labelcolor="black")


fig, axes = plt.subplots(3, 3, figsize=(10.19, 7.42), dpi=100, sharex=True, sharey=True)
fig.subplots_adjust(left=0.0517, right=0.9846, bottom=0.0926, top=0.9721, wspace=0.101, hspace=0.205)

for r, row in enumerate(PANELS):
    for c, (gp, util, xs, ys) in enumerate(row):
        ax = axes[r, c]
        draw_panel(ax, gp, util, xs, ys)
        ax.set_title(f"{METHODS[c]} Iteration {ITERATIONS[r]}", fontsize=13, pad=3)
        if c == 0:
            ax.set_ylabel("$y$", rotation=0, fontsize=12, labelpad=2, va="center")
        if r == 2:
            ax.set_xlabel("$x$", fontsize=12, labelpad=0)

handles = [
    Line2D([], [], color=COLORS["target"], lw=1.0, dashes=(5, 4)),
    Line2D([], [], color=COLORS["util"], lw=1.8),
    Line2D([], [], color=COLORS["mu"], lw=0.9),
    Patch(facecolor=COLORS["band"], edgecolor="none"),
    Line2D([], [], ls="none", marker="+", ms=9, mew=1.1, color=COLORS["mu"]),
]
labels = ["Target function", "Normalized utility function", r"$\mu(x)$", r"$\pm\sigma(x)$", r"$X$"]
fig.legend(handles, labels, loc="center", bbox_to_anchor=(0.5177, 0.0256), ncol=5,
           frameon=False, fontsize=13.5, numpoints=3, handlelength=1.7, handletextpad=0.5,
           columnspacing=1.6)

fig.savefig("out.png", dpi=100)
